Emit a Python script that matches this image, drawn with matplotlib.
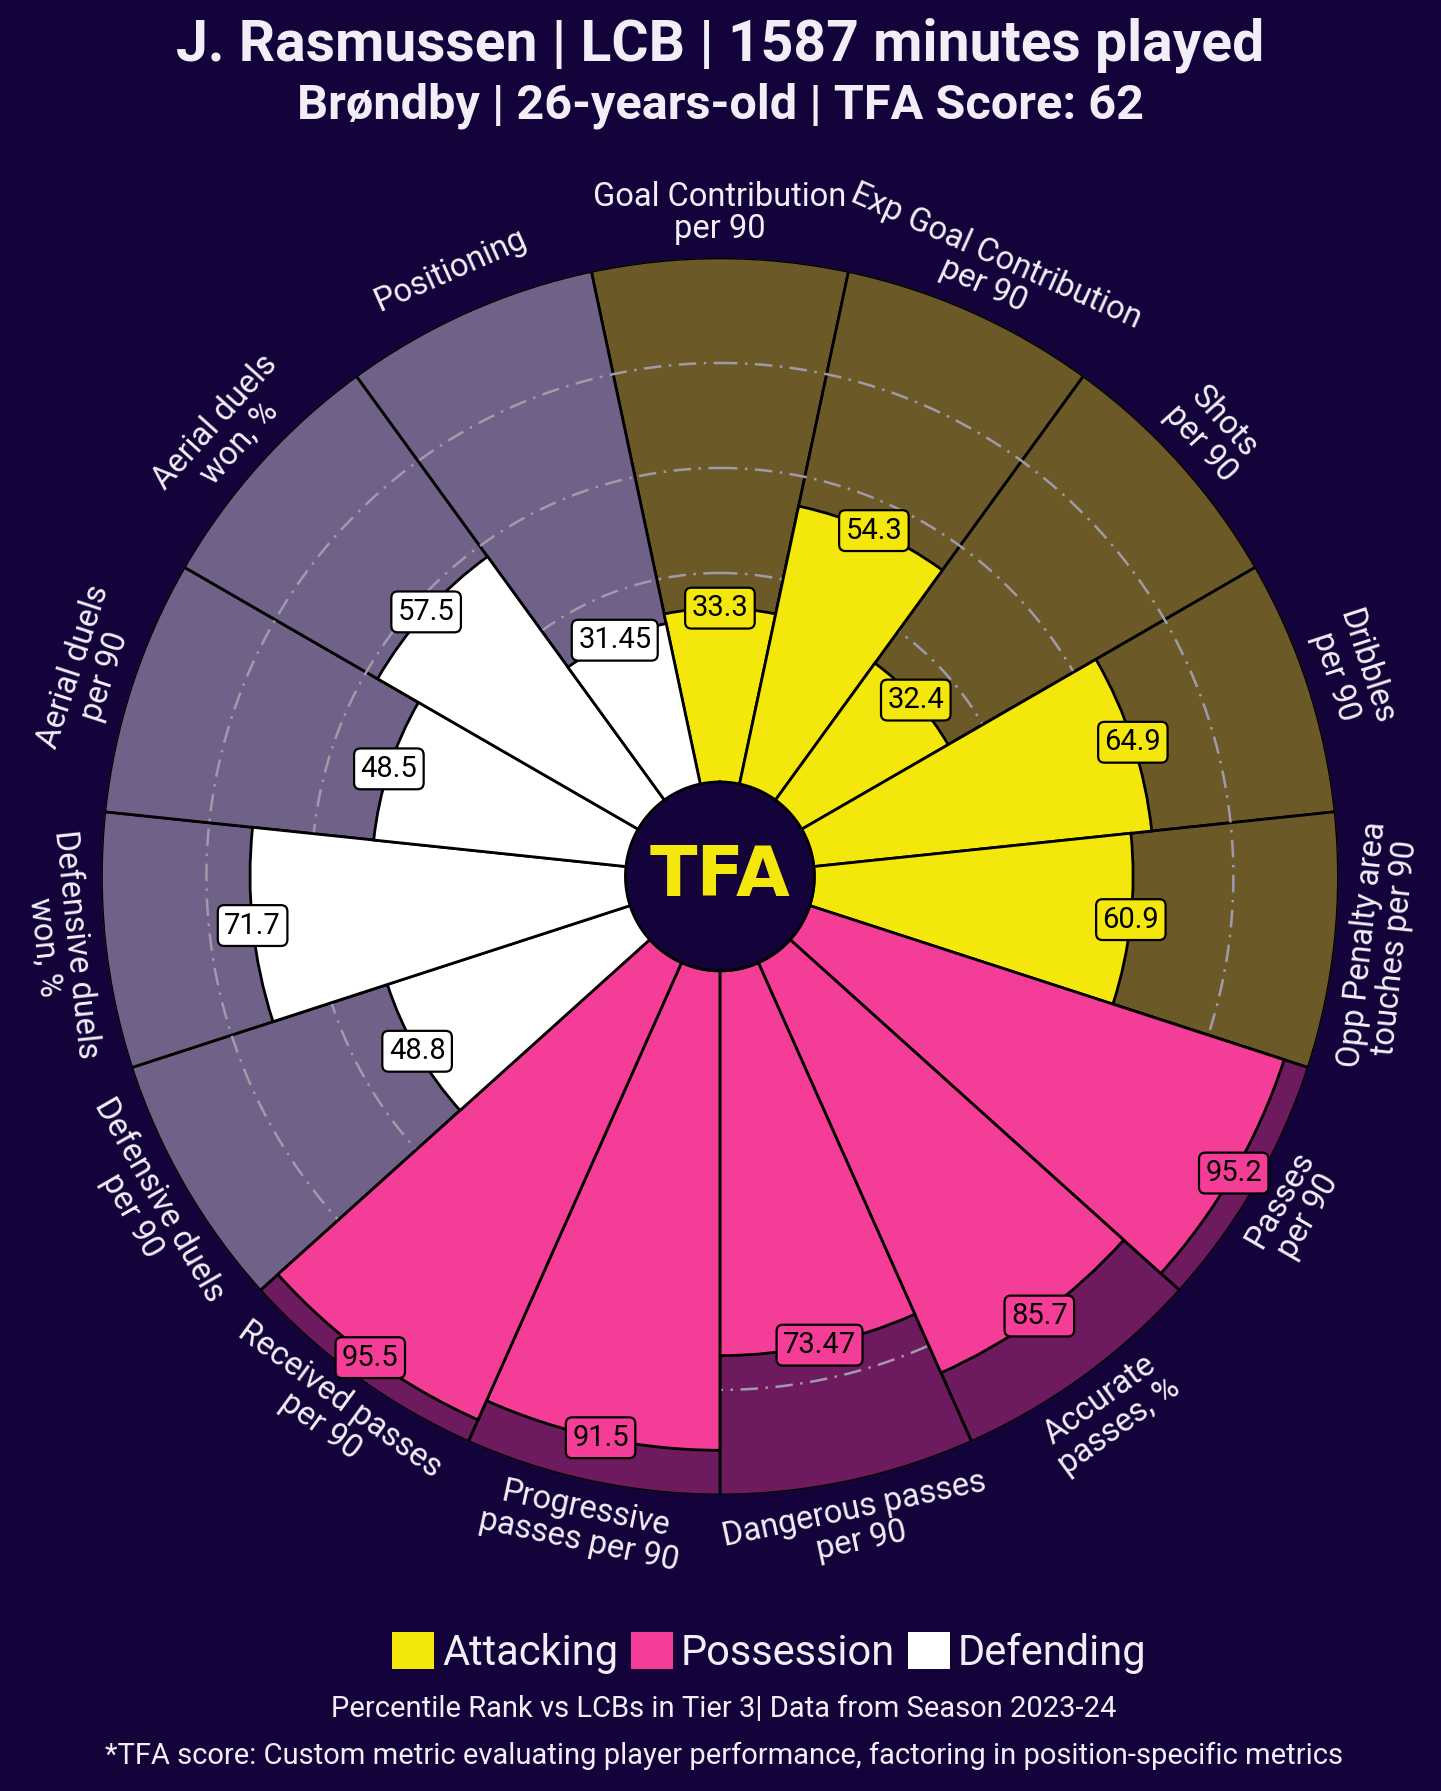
import matplotlib.pyplot as plt
import numpy as np
from matplotlib.patches import Patch

# Pizza chart data (percentile ranks)
params = ["Goal Contribution\nper 90", "Exp Goal Contribution\nper 90", "Shots\nper 90",
          "Dribbles\nper 90", "Opp Penalty area\ntouches per 90", "Passes\nper 90",
          "Accurate\npasses, %", "Dangerous passes\nper 90", "Progressive\npasses per 90",
          "Received passes\nper 90", "Defensive duels\nper 90", "Defensive duels\nwon, %",
          "Aerial duels\nper 90", "Aerial duels\nwon, %", "Positioning"]
values = [33.3, 54.3, 32.4, 64.9, 60.9, 95.2, 85.7, 73.47, 91.5, 95.5, 48.8, 71.7, 48.5, 57.5, 31.45]
groups = ["Attacking"] * 5 + ["Possession"] * 5 + ["Defending"] * 5
legend_labels = ["Attacking", "Possession", "Defending"]

title = "J. Rasmussen | LCB | 1587 minutes played"
subtitle = "Brøndby | 26-years-old | TFA Score: 62"
note1 = "Percentile Rank vs LCBs in Tier 3| Data from Season 2023-24"
note2 = "*TFA score: Custom metric evaluating player performance, factoring in position-specific metrics"

bg = "#14033a"
txt = "#f2eef8"
bar_colors = {"Attacking": "#f4e70c", "Possession": "#f43d97", "Defending": "#ffffff"}
back_colors = {"Attacking": "#6b5a27", "Possession": "#6d1a5e", "Defending": "#6f6187"}

plt.rcParams['font.family'] = ['Roboto', 'DejaVu Sans']

fig = plt.figure(figsize=(14.41, 17.91), dpi=100, facecolor=bg)
ax = fig.add_axes([0.0704, 0.1653, 0.8584, 0.6907], projection='polar')
ax.set_theta_zero_location('N')
ax.set_theta_direction(-1)
ax.set_ylim(-17.8, 100)
ax.set_axis_off()

n = len(params)
theta = np.arange(n) * 2 * np.pi / n
width = 2 * np.pi / n

# background slices
ax.bar(theta, [100] * n, width=width, bottom=0, color=[back_colors[g] for g in groups],
       edgecolor='black', linewidth=2, zorder=1)

# dash-dot rings
ring_t = np.linspace(0, 2 * np.pi, 720)
for r in [20, 40, 60, 80]:
    ax.plot(ring_t, [r] * len(ring_t), color='#9f9bab', lw=1.8, ls=(0, (7, 3, 1, 3)), zorder=2)

# value slices
ax.bar(theta, values, width=width, bottom=0, color=[bar_colors[g] for g in groups],
       edgecolor='black', linewidth=2, zorder=3)

# centre disc + logo
ax.fill_between(ring_t, -17.8, 0.2, color=bg, zorder=5)
ax.plot(ring_t, [0.2] * len(ring_t), color='black', lw=2, zorder=6)
ax.text(0, -17.8, "TFA", ha='center', va='center', fontsize=50, fontweight='bold',
        family='DejaVu Sans', color=bar_colors["Attacking"], zorder=7)

# value boxes
for t, v, g in zip(theta, values, groups):
    ax.text(t, v, str(v), ha='center', va='center', fontsize=21, color='black', zorder=8,
            bbox=dict(boxstyle='round,pad=0.22', fc=bar_colors[g], ec='black', lw=1.6))

# parameter labels
for t, p in zip(theta, params):
    phi = np.degrees(t)
    rot = 180 - phi if 90 < phi < 270 else -phi
    ax.text(t, 108.5, p, rotation=rot, ha='center', va='center', fontsize=23.5, color=txt,
            linespacing=1.0)

fig.text(0.5, 1 - 45 / 1791, title, ha='center', va='center', fontsize=41, fontweight='bold', color=txt)
fig.text(0.5, 1 - 106 / 1791, subtitle, ha='center', va='center', fontsize=35, fontweight='bold', color=txt)

handles = [Patch(facecolor=bar_colors[g], edgecolor='none') for g in legend_labels]
fig.legend(handles, legend_labels, loc='center', bbox_to_anchor=(0.534, 1 - 1653 / 1791), ncol=3,
           frameon=False, fontsize=30, handlelength=1.0, handleheight=1.0, handletextpad=0.2,
           columnspacing=0.3, labelcolor=txt)

fig.text(0.5025, 1 - 1709 / 1791, note1, ha='center', va='center', fontsize=21, color=txt)
fig.text(0.5025, 1 - 1756 / 1791, note2, ha='center', va='center', fontsize=21, color=txt)

fig.savefig('out.png', dpi=100, facecolor=bg)
